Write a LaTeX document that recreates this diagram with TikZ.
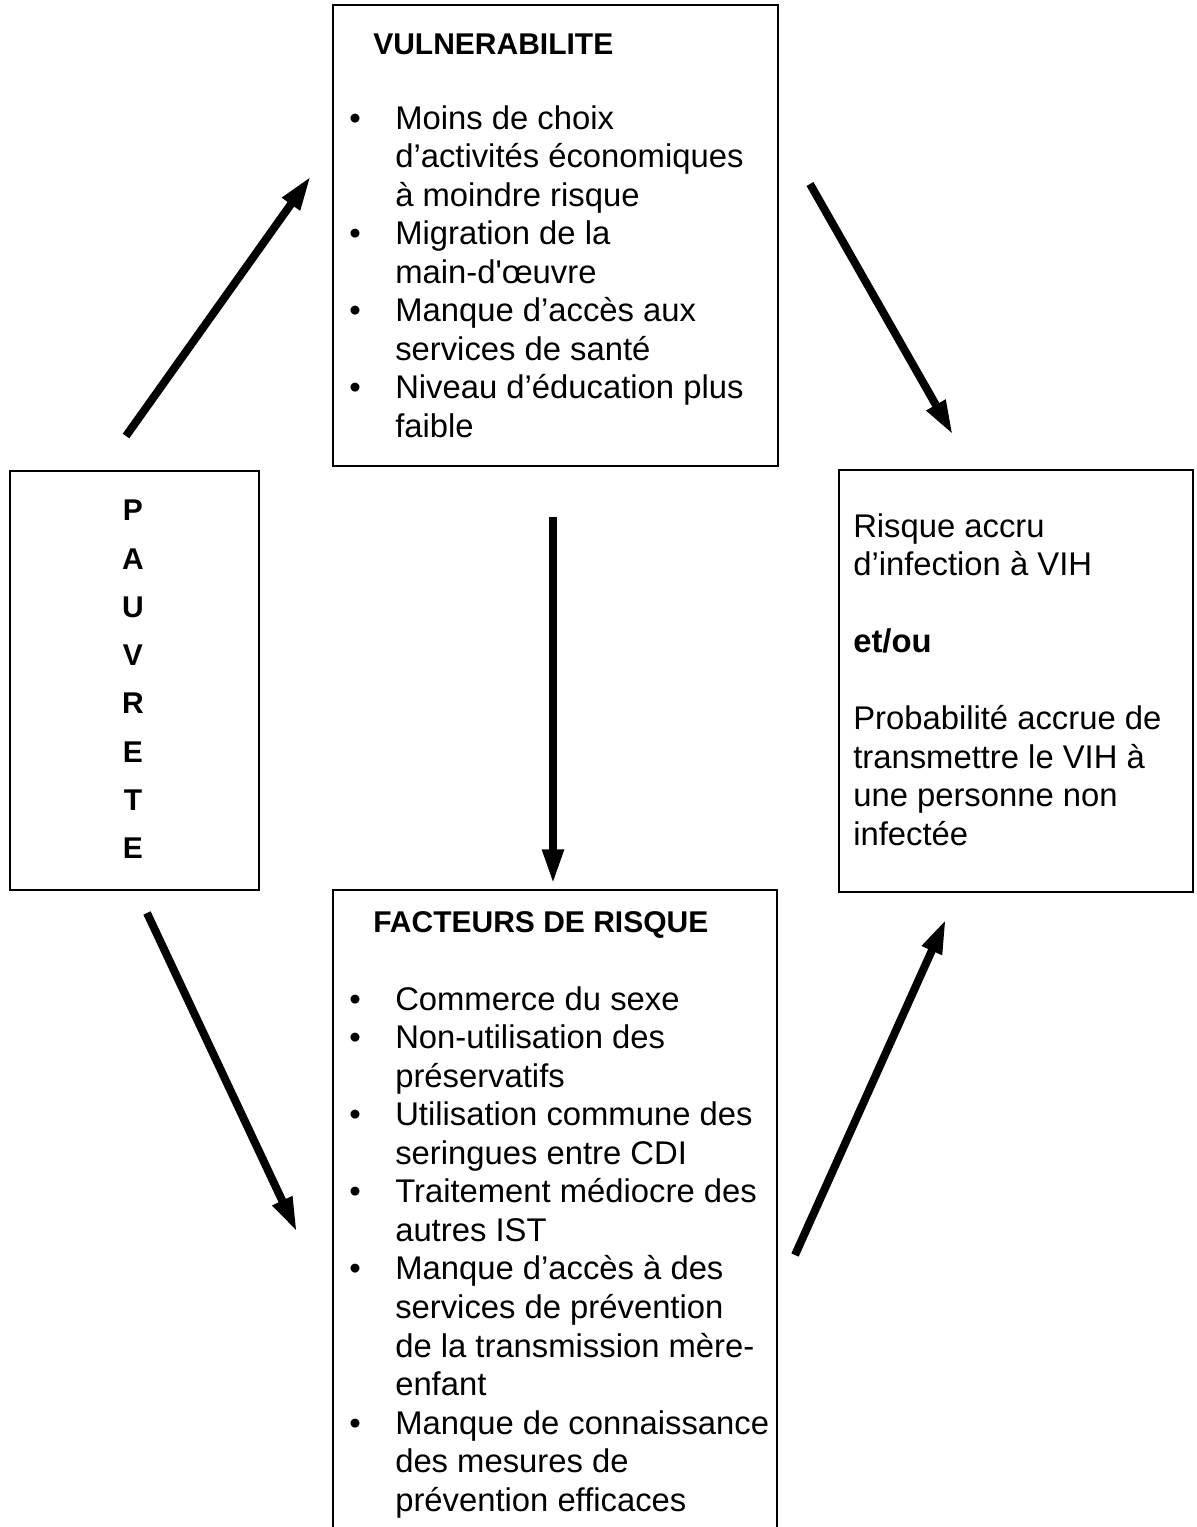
\documentclass[tikz,border=0pt]{standalone}
\usepackage{fontspec}
\setmainfont{Liberation Sans}
\usetikzlibrary{arrows.meta,fit}

\newcommand{\corps}{\fontsize{24.6}{28.9}\selectfont}
\newcommand{\titre}{\fontsize{22.5}{28.9}\selectfont\bfseries}
\newcommand{\lettres}{\fontsize{22.5}{36.2}\selectfont\bfseries}
\newcommand{\puce}{\makebox[34.5pt][l]{\textbullet}}
\newcommand{\suite}{\hspace*{34.5pt}}

\begin{document}
\begin{tikzpicture}[x=0.75pt,y=0.75pt,yscale=-1,xscale=1,
  cadre/.style={draw, line width=1.5pt, inner sep=0pt},
  texte/.style={anchor=north west, inner sep=0pt, align=left, font=\corps},
  entete/.style={anchor=base west, inner sep=0pt, font=\titre},
  fleche/.style={line width=6pt, -{Triangle[length=26pt,width=15pt]}}]

\clip (0,0) rectangle (1196,1527);

% cadres
\node [cadre, fit={(333,5) (778,466)}] (vul) {};
\node [cadre, fit={(10,471) (259,890)}] (pauv) {};
\node [cadre, fit={(839,470) (1193,892)}] (vih) {};
\node [cadre, fit={(333,890) (777,1545)}] (fact) {};

% textes
\node [entete] (vul-titre) at (373,55) {VULNERABILITE};
\node [texte] (vul-liste) at (349,102) {\strut\puce Moins de choix\\
  \suite d’activités économiques\\
  \suite à moindre risque\\
  \puce Migration de la\\
  \suite main-d\textquotesingle œuvre\\
  \puce Manque d’accès aux\\
  \suite services de santé\\
  \puce Niveau d’éducation plus\\
  \suite faible};

\node [anchor=north, inner sep=0pt, align=center, font=\lettres] (pauv-texte) at (133,500) {P\\A\\U\\V\\R\\E\\T\\E};

\node [texte] (vih-texte) at (853,510) {\strut Risque accru\\
  d’infection à VIH\\[28.9pt]
  \textbf{et/ou}\\[28.9pt]
  Probabilité accrue de\\
  transmettre le VIH à\\
  une personne non\\
  infectée};

\node [entete] (fact-titre) at (373,932) {FACTEURS DE RISQUE};
\node [texte] (fact-liste) at (349,983) {\strut\puce Commerce du sexe\\
  \puce Non-utilisation des\\
  \suite préservatifs\\
  \puce Utilisation commune des\\
  \suite seringues entre CDI\\
  \puce Traitement médiocre des\\
  \suite autres IST\\
  \puce Manque d’accès à des\\
  \suite services de prévention\\
  \suite de la transmission mère-\\
  \suite enfant\\
  \puce Manque de connaissance\\
  \suite des mesures de\\
  \suite prévention efficaces};

% fleches
\coordinate (pv1) at (126,436);
\coordinate (pv2) at (311,176);
\coordinate (vr1) at (810,184);
\coordinate (vr2) at (953,435);
\coordinate (vf1) at (553,517);
\coordinate (vf2) at (553,884);
\coordinate (pf1) at (147,913);
\coordinate (pf2) at (297,1232);
\coordinate (fr1) at (795,1255);
\coordinate (fr2) at (946,919);

\draw [fleche] (pv1) -- (pv2);
\draw [fleche] (vr1) -- (vr2);
\draw [fleche] (vf1) -- (vf2);
\draw [fleche] (pf1) -- (pf2);
\draw [fleche] (fr1) -- (fr2);

\end{tikzpicture}
\end{document}
